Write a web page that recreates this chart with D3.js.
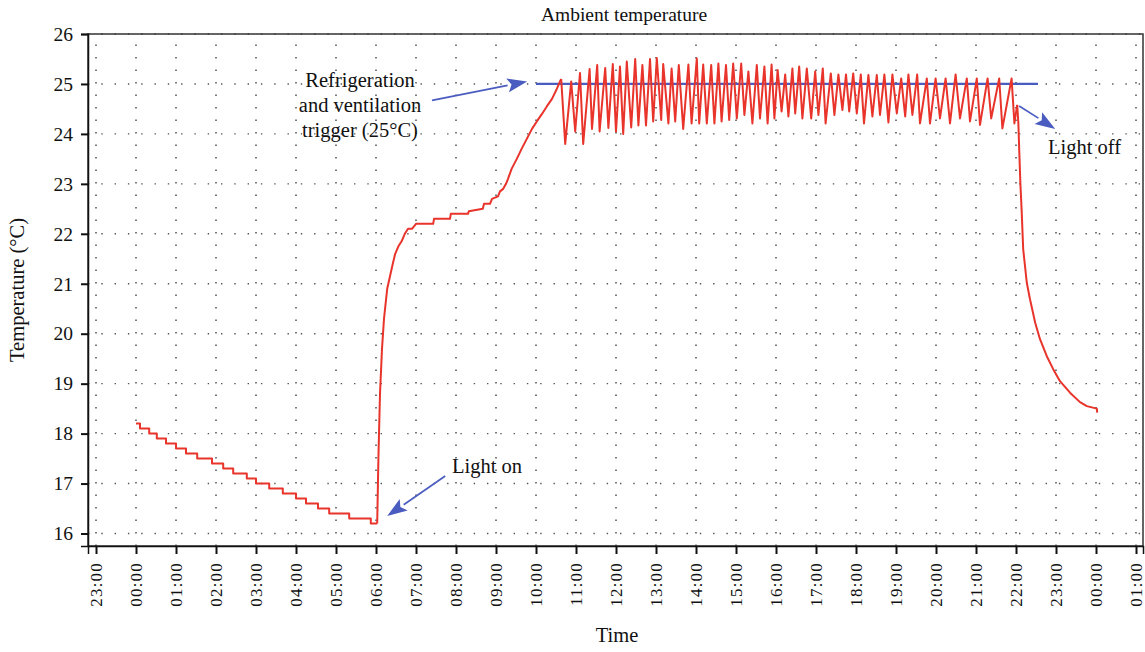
<!DOCTYPE html>
<html>
<head>
<meta charset="utf-8">
<script src="https://cdn.jsdelivr.net/npm/d3@7"></script>
<style>
  body { margin: 0; background: #fff; }
  svg { display: block; }
  text { font-family: "Liberation Serif", "DejaVu Serif", serif; fill: #111; }
</style>
</head>
<body>
<svg id="chart" width="1145" height="652"></svg>
<script>
// ---- Data (hours relative to 00:00 of day 1; temperatures in °C) ----
const nightTimes = [0, 0.1, 0.33, 0.52, 0.75, 1.0, 1.25, 1.53, 1.9, 2.18, 2.43, 2.77, 3.0, 3.33, 3.67, 4.0, 4.25, 4.55, 4.83, 5.33, 5.87, 6.03];
const nightTemps = [18.2, 18.1, 18.0, 17.9, 17.8, 17.7, 17.6, 17.5, 17.4, 17.3, 17.2, 17.1, 17.0, 16.9, 16.8, 16.7, 16.6, 16.5, 16.4, 16.3, 16.2, 16.2];

const riseTimes = [6.03, 6.06, 6.1, 6.15, 6.2, 6.28, 6.35, 6.42, 6.48, 6.56, 6.64, 6.72, 6.8, 6.9, 7.0, 7.43, 7.45, 7.85, 7.87, 8.3, 8.32, 8.67, 8.7, 8.85, 8.9, 9.05, 9.1, 9.18, 9.25, 9.3, 9.39, 9.52, 9.64, 9.77, 9.9, 10.02, 10.15, 10.27, 10.4, 10.52, 10.6, 10.63];
const riseTemps = [16.2, 17.5, 18.8, 19.7, 20.3, 20.9, 21.15, 21.4, 21.6, 21.75, 21.85, 22.0, 22.1, 22.1, 22.2, 22.2, 22.3, 22.3, 22.4, 22.4, 22.45, 22.5, 22.6, 22.6, 22.7, 22.75, 22.85, 22.9, 23.0, 23.1, 23.3, 23.5, 23.7, 23.9, 24.1, 24.25, 24.4, 24.55, 24.7, 24.9, 25.05, 25.1];

const cycleTimes = [10.63, 10.73, 10.88, 10.98, 11.10, 11.18, 11.34, 11.40, 11.53, 11.59, 11.73, 11.81, 11.92, 12.00, 12.10, 12.18, 12.27, 12.38, 12.48, 12.56, 12.66, 12.75, 12.85, 12.93, 13.02, 13.13, 13.18, 13.31, 13.39, 13.48, 13.57, 13.68, 13.81, 13.89, 14.02, 14.08, 14.18, 14.27, 14.38, 14.46, 14.56, 14.64, 14.75, 14.83, 14.93, 15.02, 15.13, 15.21, 15.31, 15.41, 15.52, 15.60, 15.71, 15.79, 15.89, 15.96, 16.04, 16.14, 16.23, 16.31, 16.41, 16.48, 16.58, 16.66, 16.77, 16.88, 16.98, 17.06, 17.17, 17.24, 17.37, 17.46, 17.56, 17.66, 17.75, 17.83, 17.93, 18.02, 18.12, 18.20, 18.31, 18.41, 18.52, 18.60, 18.71, 18.81, 18.91, 19.02, 19.13, 19.23, 19.31, 19.41, 19.53, 19.60, 19.77, 19.85, 19.99, 20.10, 20.24, 20.35, 20.49, 20.60, 20.77, 20.85, 21.02, 21.10, 21.29, 21.38, 21.58, 21.66, 21.89, 21.96, 22.03];
const cycleTemps = [25.10, 23.80, 25.05, 24.05, 25.22, 23.80, 25.30, 24.10, 25.38, 24.05, 25.32, 24.12, 25.40, 24.05, 25.35, 24.00, 25.45, 24.13, 25.50, 24.17, 25.38, 24.17, 25.50, 24.25, 25.52, 24.28, 25.40, 24.21, 25.31, 24.25, 25.38, 24.10, 25.39, 24.21, 25.51, 24.21, 25.39, 24.21, 25.38, 24.21, 25.41, 24.25, 25.38, 24.28, 25.41, 24.31, 25.41, 24.38, 25.25, 24.21, 25.38, 24.31, 25.35, 24.21, 25.39, 24.31, 25.28, 24.45, 25.19, 24.35, 25.31, 24.41, 25.35, 24.31, 25.31, 24.31, 25.25, 24.38, 25.31, 24.21, 25.21, 24.38, 25.19, 24.48, 25.19, 24.45, 25.21, 24.41, 25.19, 24.21, 25.18, 24.35, 25.18, 24.38, 25.19, 24.23, 25.19, 24.41, 25.11, 24.35, 25.19, 24.38, 25.19, 24.21, 25.11, 24.21, 25.11, 24.31, 25.11, 24.21, 25.19, 24.31, 25.11, 24.25, 25.11, 24.18, 25.11, 24.31, 25.11, 24.11, 25.11, 24.21, 24.58];

const coolTimes = [22.03, 22.06, 22.08, 22.11, 22.14, 22.18, 22.27, 22.35, 22.48, 22.6, 22.77, 22.93, 23.1, 23.35, 23.6, 23.77, 24.02, 24.03];
const coolTemps = [24.58, 24.2, 23.69, 23.0, 22.49, 21.69, 21.02, 20.69, 20.22, 19.89, 19.55, 19.29, 19.05, 18.82, 18.63, 18.55, 18.5, 18.42];

const triggerTimes = [10.0, 22.55];
const triggerTemps = [25, 25];

const yTicks = [16, 17, 18, 19, 20, 21, 22, 23, 24, 25, 26];
const xDomainHours = [-1.2, 25.175];

const titleText = "Ambient temperature";
const xLabel = "Time";
const yLabel = "Temperature (°C)";
const refrigLines = ["Refrigeration", "and ventilation", "trigger (25°C)"];
const lightOnText = "Light on";
const lightOffText = "Light off";

// ---- Setup ----
const W = 1145, H = 652;
const margin = {left: 88, right: 2, top: 34, bottom: 106};
const base = Date.UTC(2020, 0, 1, 0, 0, 0);
const toDate = h => new Date(base + h * 3600e3);

const x = d3.scaleUtc()
  .domain(xDomainHours.map(toDate))
  .range([margin.left, W - margin.right]);
const y = d3.scaleLinear()
  .domain([15.75, 26])
  .range([H - margin.bottom, margin.top]);

const svg = d3.select("#chart");
const RED = "#e8342b", BLUE = "#4a5cc0";

const hourTicks = d3.utcHour.every(1).range(toDate(-1), toDate(25.01));

// Grid
const grid = svg.append("g");
grid.selectAll("line.v").data(hourTicks).join("line")
  .attr("x1", d => x(d)).attr("x2", d => x(d))
  .attr("y1", y.range()[0]).attr("y2", y.range()[1])
  .attr("stroke", "#444").attr("stroke-width", 1.4)
  .attr("stroke-dasharray", "1.4,11.1");
grid.selectAll("line.h").data(yTicks).join("line")
  .attr("x1", x.range()[0]).attr("x2", x.range()[1])
  .attr("y1", d => y(d)).attr("y2", d => y(d))
  .attr("stroke", "#555").attr("stroke-width", 1.4)
  .attr("stroke-dasharray", "1.4,11.9");

// Frame
svg.append("rect")
  .attr("x", x.range()[0]).attr("y", y.range()[1])
  .attr("width", x.range()[1] - x.range()[0])
  .attr("height", y.range()[0] - y.range()[1])
  .attr("fill", "none").attr("stroke", "#333").attr("stroke-width", 1.5);

// Axes
const xAxis = svg.append("g")
  .attr("transform", `translate(0,${y.range()[0]})`)
  .call(d3.axisBottom(x).tickValues(hourTicks).tickFormat(d3.utcFormat("%H:%M")).tickSize(8).tickPadding(8));
xAxis.select(".domain").attr("stroke", "#111").attr("stroke-width", 1.5);
xAxis.selectAll(".tick line").attr("stroke", "#111").attr("stroke-width", 2);
xAxis.selectAll(".tick text")
  .attr("font-size", 17)
  .attr("font-family", "Liberation Serif, serif")
  .attr("fill", "#111")
  .attr("text-anchor", "end")
  .attr("letter-spacing", "1.2px")
  .attr("transform", "rotate(-90)")
  .attr("x", -16).attr("y", 0).attr("dy", "0.32em");

const yAxis = svg.append("g")
  .attr("transform", `translate(${x.range()[0]},0)`)
  .call(d3.axisLeft(y).tickValues(yTicks).tickFormat(d3.format("d")).tickSize(7).tickPadding(8));
yAxis.select(".domain").attr("stroke", "#111").attr("stroke-width", 1.5);
yAxis.selectAll(".tick text")
  .attr("font-size", 19.5)
  .attr("font-family", "Liberation Serif, serif")
  .attr("fill", "#111");
yAxis.selectAll(".tick line").attr("stroke", "#111").attr("stroke-width", 2);

// Series
const lineLin = d3.line().x(d => x(toDate(d[0]))).y(d => y(d[1]));
const lineStep = d3.line().curve(d3.curveStepAfter).x(d => x(toDate(d[0]))).y(d => y(d[1]));
const zip = (a, b) => a.map((v, i) => [v, b[i]]);

svg.append("path").datum(zip(triggerTimes, triggerTemps))
  .attr("d", lineLin).attr("fill", "none").attr("stroke", BLUE).attr("stroke-width", 2.2);

const series = svg.append("g").attr("fill", "none").attr("stroke", RED)
  .attr("stroke-width", 2).attr("stroke-linejoin", "round");
series.append("path").datum(zip(nightTimes, nightTemps)).attr("d", lineStep);
series.append("path").datum(zip(riseTimes, riseTemps)).attr("d", lineLin);
series.append("path").datum(zip(cycleTimes, cycleTemps)).attr("d", lineLin);
series.append("path").datum(zip(coolTimes, coolTemps)).attr("d", lineLin);

// Annotations (data coordinates)
function arrow(h0, v0, h1, v1) {
  const x0 = x(toDate(h0)), y0 = y(v0), x1 = x(toDate(h1)), y1 = y(v1);
  const ang = Math.atan2(y1 - y0, x1 - x0);
  const L = 20, Wd = 7;
  const bx = x1 - L * Math.cos(ang), by = y1 - L * Math.sin(ang);
  svg.append("line").attr("x1", x0).attr("y1", y0).attr("x2", bx).attr("y2", by)
    .attr("stroke", BLUE).attr("stroke-width", 1.7);
  const px = -Math.sin(ang) * Wd, py = Math.cos(ang) * Wd;
  const nx = bx + (x1 - bx) * 0.2, ny = by + (y1 - by) * 0.2;
  svg.append("path")
    .attr("d", `M${x1},${y1}L${bx + px},${by + py}L${nx},${ny}L${bx - px},${by - py}Z`)
    .attr("fill", BLUE);
}
arrow(7.4, 24.67, 9.78, 25.05);
arrow(7.73, 17.15, 6.28, 16.35);
arrow(22.08, 24.56, 22.98, 24.1);

const refY = [24.93, 24.43, 23.93];
svg.append("g").selectAll("text").data(refrigLines).join("text")
  .attr("x", x(toDate(5.6))).attr("y", (d, i) => y(refY[i]))
  .attr("text-anchor", "middle").attr("font-size", 20.5).text(d => d);
svg.append("text").attr("x", x(toDate(7.9))).attr("y", y(17.21))
  .attr("font-size", 20.5).text(lightOnText);
svg.append("text").attr("x", x(toDate(22.8))).attr("y", y(23.6))
  .attr("font-size", 20.5).text(lightOffText);

// Titles
svg.append("text").attr("x", 624).attr("y", 21).attr("text-anchor", "middle")
  .attr("font-size", 19.5).text(titleText);
svg.append("text").attr("x", 617).attr("y", 642).attr("text-anchor", "middle")
  .attr("font-size", 20.5).text(xLabel);
svg.append("text").attr("transform", `translate(24,${(y.range()[0] + y.range()[1]) / 2}) rotate(-90)`)
  .attr("text-anchor", "middle").attr("font-size", 20.5).text(yLabel);
</script>
</body>
</html>
